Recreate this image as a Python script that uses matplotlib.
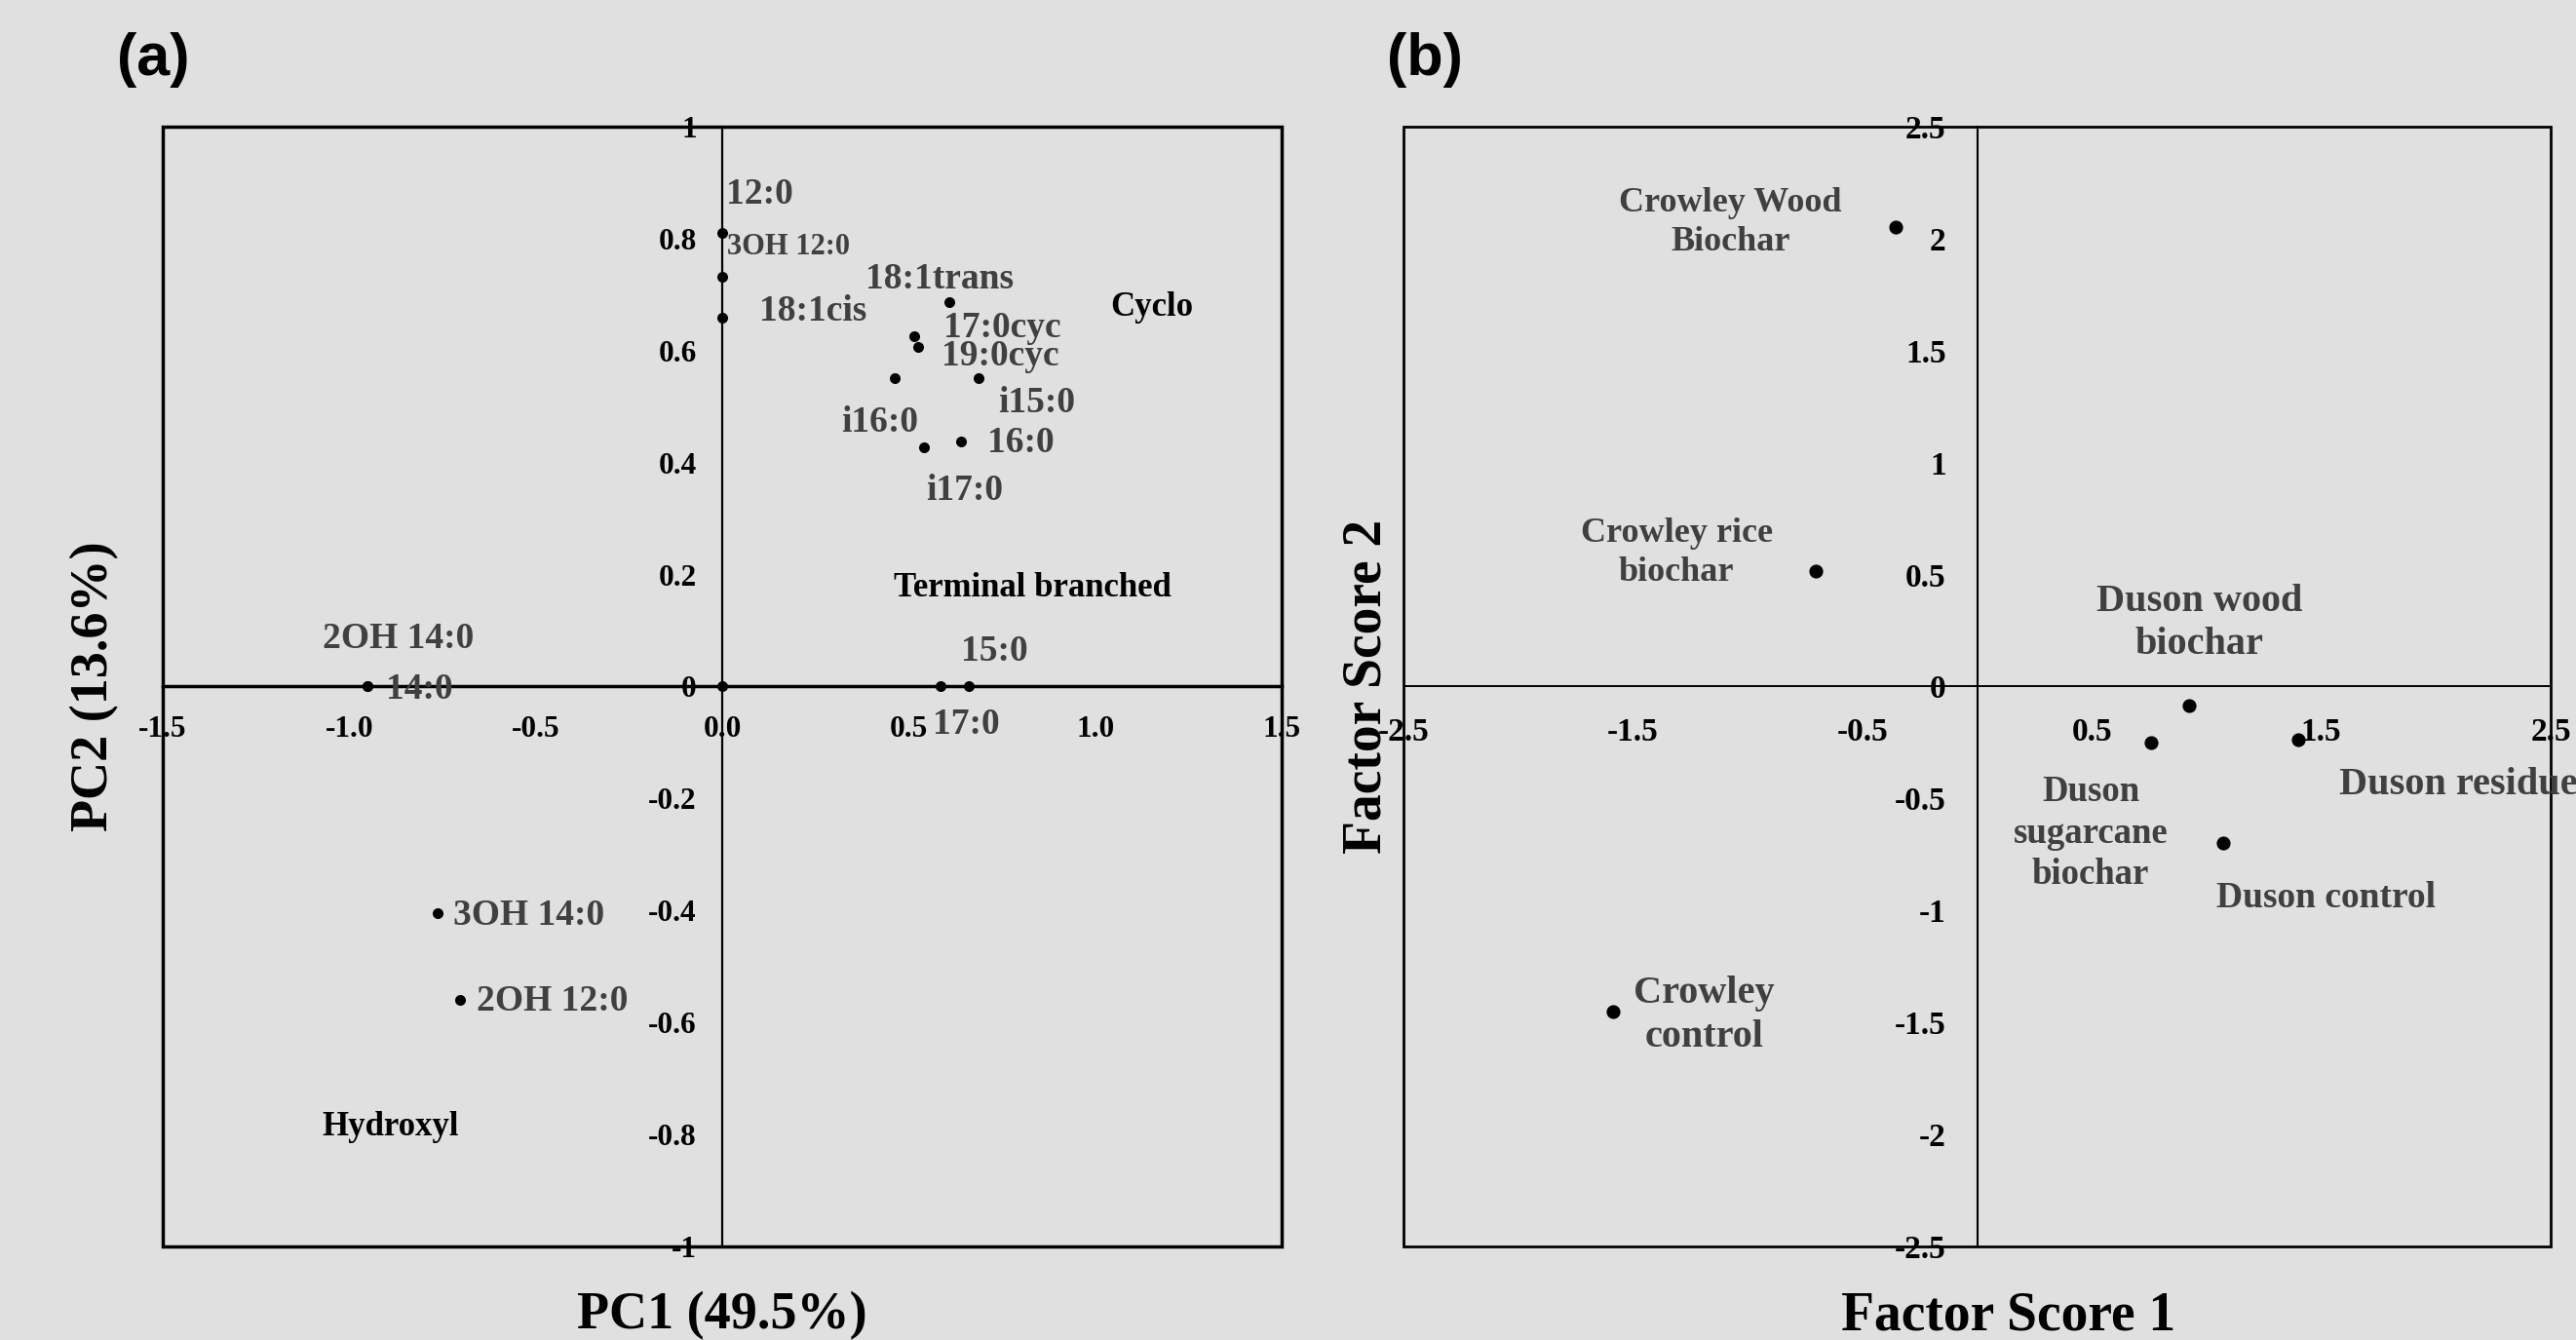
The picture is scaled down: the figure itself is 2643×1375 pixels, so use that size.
import matplotlib.pyplot as plt
from matplotlib.patches import Rectangle

# (a) PLFA loadings
fame_names = ['12:0', '3OH 12:0', '18:1cis', '18:1trans', '17:0cyc', '19:0cyc',
              'i16:0', 'i15:0', '16:0', 'i17:0', '14:0', '2OH 14:0', '15:0', '17:0',
              '3OH 14:0', '2OH 12:0', '']
pc1 = [0.0, 0.0, 0.0, 0.61, 0.514, 0.524, 0.462, 0.688, 0.64, 0.54, -0.952, -0.952,
       0.586, 0.662, -0.763, -0.704, 0.0]
pc2 = [0.81, 0.732, 0.658, 0.686, 0.625, 0.606, 0.551, 0.551, 0.438, 0.427, 0.0, 0.0,
       0.0, 0.0, -0.405, -0.56, 0.0]
groups = ['Cyclo', 'Terminal branched', 'Hydroxyl']

# (b) sample factor scores
samples = ['Crowley Wood\nBiochar', 'Crowley rice\nbiochar', 'Duson wood\nbiochar',
           'Duson\nsugarcane\nbiochar', 'Duson residue', 'Duson control', 'Crowley\ncontrol']
fs1 = [-0.353, -0.704, 0.926, 0.758, 1.401, 1.071, -1.586]
fs2 = [2.05, 0.514, -0.085, -0.252, -0.238, -0.698, -1.453]

# label placement (layout only)
fame_label_xy = [(0.01, 0.879), (0.014, 0.785), (0.10, 0.67), (0.384, 0.727), (0.594, 0.64),
                 (0.588, 0.59), (0.318, 0.471), (0.74, 0.507), (0.71, 0.435), (0.546, 0.349),
                 (-0.901, -0.005), (-1.072, 0.085), (0.64, 0.0635), (0.564, -0.068),
                 (-0.72, -0.409), (-0.659, -0.563), (0, 0)]
fame_label_size = [27, 22, 27, 27, 27, 27, 27, 27, 27, 27, 27, 27, 27, 27, 27, 27, 27]
group_xy = [(1.04, 0.677), (0.46, 0.1755), (-1.072, -0.786)]
sample_label_xy = [(-1.074, 2.07), (-1.31, 0.598), (0.97, 0.283), (0.495, -0.655),
                   (1.58, -0.44), (1.044, -0.946), (-1.19, -1.468)]
sample_label_ha = ['center', 'center', 'center', 'center', 'left', 'left', 'center']
sample_label_size = [26, 26, 29, 26.5, 29, 27, 29]

serif = 'Liberation Serif'
bg = '#e0e0e0'
lab_col = '#404040'

fig = plt.figure(figsize=(26.43, 13.75), dpi=100, facecolor=bg)
ax1 = fig.add_axes([0.06319, 0.06982, 0.43436, 0.83564])
ax2 = fig.add_axes([0.54484, 0.06982, 0.44533, 0.83564])


def style_axes(ax, box_lw, v_lw, h_lw, xpad, ypad, tsize):
    ax.set_facecolor('none')
    for s in ['top', 'right']:
        ax.spines[s].set_visible(False)
    ax.spines['left'].set_position(('data', 0))
    ax.spines['bottom'].set_position(('data', 0))
    ax.spines['left'].set_linewidth(v_lw)
    ax.spines['bottom'].set_linewidth(h_lw)
    ax.add_patch(Rectangle((0, 0), 1, 1, transform=ax.transAxes, fill=False,
                           lw=box_lw, ec='black', clip_on=False, zorder=3))
    ax.tick_params(axis='x', length=0, pad=xpad, labelsize=tsize)
    ax.tick_params(axis='y', length=0, pad=ypad, labelsize=tsize)
    for t in ax.get_xticklabels() + ax.get_yticklabels():
        t.set_fontfamily(serif)
        t.set_fontweight('bold')


# panel (a)
ax1.set_xlim(-1.5, 1.5)
ax1.set_ylim(-1, 1)
ax1.set_xticks([-1.5, -1.0, -0.5, 0.0, 0.5, 1.0, 1.5])
ax1.set_xticklabels(['-1.5', '-1.0', '-0.5', '0.0', '0.5', '1.0', '1.5'])
ax1.set_yticks([-1, -0.8, -0.6, -0.4, -0.2, 0, 0.2, 0.4, 0.6, 0.8, 1])
ax1.set_yticklabels(['-1', '-0.8', '-0.6', '-0.4', '-0.2', '0', '0.2', '0.4', '0.6', '0.8', '1'])
style_axes(ax1, 2.5, 1.6, 2.5, 21, 19, 22.5)
ax1.scatter(pc1, pc2, s=48, color='black', zorder=4, clip_on=False)
for name, (lx, ly), fs in zip(fame_names, fame_label_xy, fame_label_size):
    if name:
        ax1.text(lx, ly, name, ha='left', va='center', fontsize=fs, color=lab_col,
                 family=serif, fontweight='bold')
for g, (gx, gy) in zip(groups, group_xy):
    ax1.text(gx, gy, g, ha='left', va='center', fontsize=25, color='black',
             family=serif, fontweight='bold')
ax1.set_xlabel('PC1 (49.5%)', fontsize=39, family=serif, fontweight='bold')
ax1.xaxis.set_label_coords(0.5, -0.040)
ax1.set_ylabel('PC2 (13.6%)', fontsize=39, family=serif, fontweight='bold')
ax1.yaxis.set_label_coords(-0.039, 0.5)

# panel (b)
ax2.set_xlim(-2.5, 2.5)
ax2.set_ylim(-2.5, 2.5)
ax2.set_xticks([-2.5, -1.5, -0.5, 0.5, 1.5, 2.5])
ax2.set_xticklabels(['-2.5', '-1.5', '-0.5', '0.5', '1.5', '2.5'])
ax2.set_yticks([-2.5, -2, -1.5, -1, -0.5, 0, 0.5, 1, 1.5, 2, 2.5])
ax2.set_yticklabels(['-2.5', '-2', '-1.5', '-1', '-0.5', '0', '0.5', '1', '1.5', '2', '2.5'])
style_axes(ax2, 2.0, 1.5, 1.4, 23, 23, 24)
ax2.scatter(fs1, fs2, s=85, color='black', zorder=4)
for name, (lx, ly), ha, fs in zip(samples, sample_label_xy, sample_label_ha, sample_label_size):
    ax2.text(lx, ly, name, ha=ha, va='center', multialignment='center', fontsize=fs,
             color=lab_col, family=serif, fontweight='bold', linespacing=1.28)
ax2.set_xlabel('Factor Score 1', fontsize=40, family=serif, fontweight='bold')
ax2.xaxis.set_label_coords(0.527, -0.040)
ax2.set_ylabel('Factor Score 2', fontsize=40, family=serif, fontweight='bold')
ax2.yaxis.set_label_coords(-0.01, 0.5)

fig.text(0.0454, 0.976, '(a)', fontsize=44, fontweight='bold', family='Liberation Sans',
         va='top', ha='left')
fig.text(0.5384, 0.976, '(b)', fontsize=44, fontweight='bold', family='Liberation Sans',
         va='top', ha='left')

fig.savefig('out.png', dpi=100, facecolor=bg)
